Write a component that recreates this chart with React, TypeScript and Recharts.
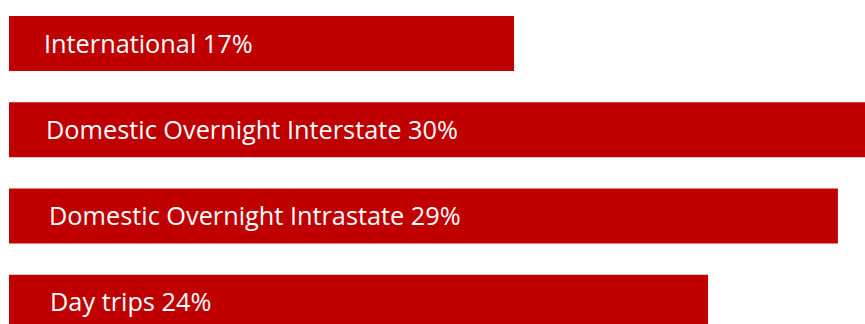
import { BarChart, Bar, XAxis, YAxis, LabelList } from "recharts";

const categories = [
  "International",
  "Domestic Overnight Interstate",
  "Domestic Overnight Intrastate",
  "Day trips",
];
// bar lengths as drawn (percent of trips)
const barLengths = [17.7, 30, 29.05, 24.5];
// shares as printed in the labels
const shareLabels = ["17%", "30%", "29%", "24%"];

const data = categories.map((name, i) => ({
  name,
  value: barLengths[i],
  label: `${name} ${shareLabels[i]}`,
}));

const renderLabel = (props: any) => {
  const { x, y, height, value, index } = props;
  // labels in the original sit a touch further in on the lower rows
  const indent = [35, 37, 40, 41][index] ?? 38;
  return (
    <text
      x={x + indent}
      y={y + height / 2}
      dy={9}
      fill="#ffffff"
      fontSize={25.3}
      fontFamily="'Open Sans', sans-serif"
      textAnchor="start"
    >
      {value}
    </text>
  );
};

const App = () => {
  return (
    <div
      style={{
        position: "fixed",
        left: 0,
        top: 0,
        width: 865,
        height: 324,
        overflow: "hidden",
        background: "#ffffff",
      }}
    >
      <BarChart
        width={865}
        height={345}
        data={data}
        layout="vertical"
        margin={{ top: 0, right: 0, bottom: 0, left: 9 }}
      >
        <XAxis type="number" domain={[0, 30]} hide />
        <YAxis type="category" dataKey="name" hide />
        <Bar dataKey="value" fill="#c00000" barSize={55} isAnimationActive={false}>
          <LabelList dataKey="label" content={renderLabel} />
        </Bar>
      </BarChart>
    </div>
  );
};

export default App;
